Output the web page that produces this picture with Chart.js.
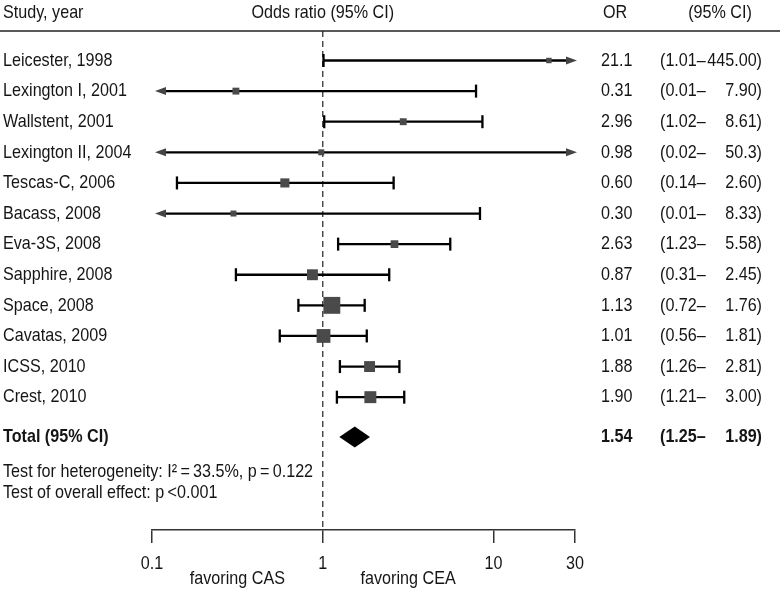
<!DOCTYPE html>
<html>
<head>
<meta charset="utf-8">
<script src="https://cdn.jsdelivr.net/npm/chart.js@4"></script>
<style>
html, body { margin: 0; padding: 0; background: #fff; }
</style>
</head>
<body>
<canvas id="myChart" width="780" height="590"></canvas>
<script>
// study rows, top to bottom
const studies = ['Leicester, 1998', 'Lexington I, 2001', 'Wallstent, 2001', 'Lexington II, 2004',
  'Tescas-C, 2006', 'Bacass, 2008', 'Eva-3S, 2008', 'Sapphire, 2008', 'Space, 2008',
  'Cavatas, 2009', 'ICSS, 2010', 'Crest, 2010'];
const oddsRatio = [21.1, 0.31, 2.96, 0.98, 0.60, 0.30, 2.63, 0.87, 1.13, 1.01, 1.88, 1.90];
const ciLow = [1.01, 0.01, 1.02, 0.02, 0.14, 0.01, 1.23, 0.31, 0.72, 0.56, 1.26, 1.21];
const ciHigh = [445.00, 7.90, 8.61, 50.3, 2.60, 8.33, 5.58, 2.45, 1.76, 1.81, 2.81, 3.00];
// study weights (%), estimated from square sizes
const weights = [2.5, 4, 4, 3, 7, 3, 5, 10, 24, 16, 10, 12];
const totalOR = 1.54;
const totalLow = 1.25;
const totalHigh = 1.89;
const xTicks = [0.1, 1, 10, 30];

const FONT = '"Liberation Sans", Arial, sans-serif';
const TXT = '#151515';
const NARROW = 0.85; // squeeze Liberation Sans to look like a narrow face

function fmt(v) {
  if (v >= 10 && v < 100) return v.toFixed(1);
  return v.toFixed(2);
}

// draw condensed text
function txt(ctx, s, x, y, align) {
  ctx.save();
  ctx.translate(x, y);
  ctx.scale(NARROW, 1);
  ctx.textAlign = align || 'left';
  ctx.fillText(s, 0, 0);
  ctx.restore();
}

const totalRow = studies.length + 0.3;

var forestPlugin = {
  id: 'forest',
  beforeDatasetsDraw(chart) {
    const ctx = chart.ctx;
    const area = chart.chartArea;
    const x = chart.scales.x, y = chart.scales.y;
    ctx.save();
    // line of no effect
    const x1 = x.getPixelForValue(1);
    ctx.setLineDash([6, 4]);
    ctx.strokeStyle = '#333';
    ctx.lineWidth = 1.3;
    ctx.beginPath();
    ctx.moveTo(x1, area.top);
    ctx.lineTo(x1, area.bottom);
    ctx.stroke();
    ctx.setLineDash([]);

    studies.forEach((s, i) => {
      const py = y.getPixelForValue(i);
      const leftOut = ciLow[i] < x.min;
      const rightOut = ciHigh[i] > x.max;
      let pl = x.getPixelForValue(leftOut ? x.min : ciLow[i]);
      let ph = x.getPixelForValue(rightOut ? x.max : ciHigh[i]);
      if (leftOut) pl += 3;
      if (rightOut) ph += 2;
      ctx.strokeStyle = '#000';
      ctx.lineWidth = 2.3;
      ctx.beginPath();
      ctx.moveTo(leftOut ? pl + 6 : pl, py);
      ctx.lineTo(rightOut ? ph - 6 : ph, py);
      ctx.stroke();
      // caps
      [[leftOut, pl], [rightOut, ph]].forEach(([out, px]) => {
        if (!out) {
          ctx.beginPath();
          ctx.moveTo(px, py - 6.5);
          ctx.lineTo(px, py + 6.5);
          ctx.stroke();
        }
      });
      // arrows
      ctx.fillStyle = '#444';
      if (leftOut) {
        ctx.beginPath();
        ctx.moveTo(pl, py);
        ctx.lineTo(pl + 11, py - 4);
        ctx.lineTo(pl + 11, py + 4);
        ctx.closePath();
        ctx.fill();
      }
      if (rightOut) {
        ctx.beginPath();
        ctx.moveTo(ph, py);
        ctx.lineTo(ph - 11, py - 4);
        ctx.lineTo(ph - 11, py + 4);
        ctx.closePath();
        ctx.fill();
      }
    });
    ctx.restore();
  },
  afterDatasetsDraw(chart) {
    const ctx = chart.ctx;
    const x = chart.scales.x, y = chart.scales.y;
    const py = y.getPixelForValue(totalRow);
    ctx.save();
    ctx.fillStyle = '#000';
    ctx.beginPath();
    ctx.moveTo(x.getPixelForValue(totalLow), py);
    ctx.lineTo(x.getPixelForValue(totalOR), py - 10.5);
    ctx.lineTo(x.getPixelForValue(totalHigh), py);
    ctx.lineTo(x.getPixelForValue(totalOR), py + 10.5);
    ctx.closePath();
    ctx.fill();
    ctx.restore();
  },
  afterDraw(chart) {
    const ctx = chart.ctx;
    const area = chart.chartArea;
    const x = chart.scales.x, y = chart.scales.y;
    const W = chart.width;
    ctx.save();
    ctx.fillStyle = TXT;
    ctx.textBaseline = 'middle';
    ctx.font = '19px ' + FONT;

    // header
    txt(ctx, 'Study, year', 3, 13);
    txt(ctx, 'OR', 603, 13);
    txt(ctx, 'Odds ratio (95% CI)', x.getPixelForValue(1), 13, 'center');
    txt(ctx, '(95% CI)', 720, 13, 'center');
    ctx.strokeStyle = '#222';
    ctx.lineWidth = 1.5;
    ctx.beginPath();
    ctx.moveTo(0, 31);
    ctx.lineTo(W, 31);
    ctx.stroke();

    // rows
    studies.forEach((s, i) => {
      const py = y.getPixelForValue(i);
      txt(ctx, s, 3, py);
      txt(ctx, fmt(oddsRatio[i]), 601, py);
      txt(ctx, '(' + fmt(ciLow[i]) + '\u2013', 660, py);
      txt(ctx, fmt(ciHigh[i]) + ')', 762, py, 'right');
    });

    // total
    const pt = y.getPixelForValue(totalRow);
    ctx.font = 'bold 19px ' + FONT;
    txt(ctx, 'Total (95% CI)', 3, pt);
    txt(ctx, fmt(totalOR), 601, pt);
    txt(ctx, '(' + fmt(totalLow) + '\u2013', 660, pt);
    txt(ctx, fmt(totalHigh) + ')', 762, pt, 'right');

    // footnotes
    ctx.font = '19px ' + FONT;
    txt(ctx, 'Test for heterogeneity: I\u00B2\u2009=\u200933.5%, p\u2009=\u20090.122', 3, 472);
    txt(ctx, 'Test of overall effect: p\u2009<0.001', 3, 493);

    // tick labels of the x axis
    x.ticks.forEach(t => {
      txt(ctx, String(t.value), x.getPixelForValue(t.value), area.bottom + 34, 'center');
    });

    // direction labels
    txt(ctx, 'favoring CAS', x.getPixelForValue(Math.sqrt(0.1)), 579, 'center');
    txt(ctx, 'favoring CEA', x.getPixelForValue(Math.sqrt(10)), 579, 'center');
    ctx.restore();
  }
};

var ctx = document.getElementById('myChart').getContext('2d');
var myChart = new Chart(ctx, {
  type: 'scatter',
  data: {
    datasets: [{
      data: oddsRatio.map((v, i) => ({ x: v, y: i })),
      pointStyle: 'rect',
      pointRadius: weights.map(w => 3.45 * Math.sqrt(w) / Math.SQRT2),
      backgroundColor: '#4a4a4a',
      borderWidth: 0,
      hoverRadius: 0
    }]
  },
  options: {
    responsive: false,
    animation: false,
    events: [],
    layout: { padding: { left: 152, right: 205, top: 31, bottom: 47 } },
    plugins: { legend: { display: false }, tooltip: { enabled: false } },
    scales: {
      x: {
        type: 'logarithmic',
        min: 0.1,
        max: 30,
        afterBuildTicks: s => { s.ticks = xTicks.map(v => ({ value: v })); },
        grid: { drawOnChartArea: false, drawTicks: true, tickLength: 13, color: '#333', lineWidth: 1.5 },
        border: { color: '#333', width: 1.5 },
        ticks: { display: false }
      },
      y: { type: 'linear', reverse: true, min: -0.964, max: 15.34, display: false }
    }
  },
  plugins: [forestPlugin]
});
</script>
</body>
</html>
